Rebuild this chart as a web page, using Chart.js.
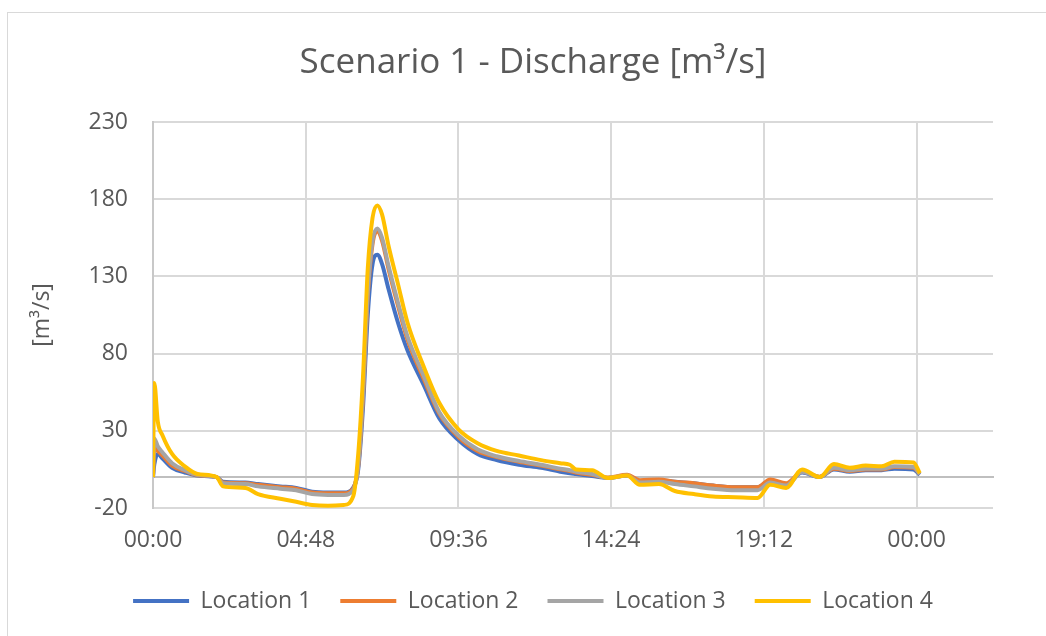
<!DOCTYPE html>
<html>
<head>
<meta charset="utf-8">
<title>Scenario 1 - Discharge</title>
<script src="https://cdn.jsdelivr.net/npm/chart.js@4.4.0/dist/chart.umd.min.js"></script>
<style>
  html, body { margin: 0; padding: 0; background: #fff; overflow: hidden; }
  /* Excel-style chart area border */
  #frame { position: absolute; left: 7px; top: 12px; width: 1060px; height: 660px;
           border: 1px solid #d9d9d9; box-sizing: border-box; }
  #wrap { position: absolute; left: 0; top: 0; width: 1046px; height: 636px; }
</style>
</head>
<body>
<div id="frame"></div>
<div id="wrap"><canvas id="chart" width="1046" height="636"></canvas></div>
<script>
// ── Data (time in hours from 00:00, discharge in m³/s) ──
const hours = [0, 0.04, 0.15, 0.3, 0.6, 1.0, 1.4, 2.0, 2.2, 2.9,
  3.3, 4.0, 4.5, 5.0, 5.5, 6.0, 6.3, 6.45, 6.6, 6.75,
  6.9, 7.05, 7.2, 7.4, 7.7, 8.0, 8.5, 9.0, 9.6, 10.2,
  10.8, 11.5, 12.2, 12.8, 13.1, 13.3, 13.8, 14.3, 14.9, 15.3,
  15.9, 16.4, 17.0, 17.6, 18.3, 19.0, 19.4, 19.9, 20.4, 20.95,
  21.4, 21.9, 22.4, 22.9, 23.3, 23.9, 24.1];

const location1 = [0, 8, 15, 12, 6, 3, 1, 0, -3, -3.5,
  -4.5, -6, -7, -9.5, -10, -10, -6.5, 5, 45, 105,
  138, 144, 138, 122, 100, 82, 60, 38, 24, 15,
  11, 8, 6, 3.5, 2.5, 2, 0.7, -0.5, 1, -2.5,
  -2, -3, -4, -5.5, -6.5, -6.5, -2.5, -5, 3, 0,
  5, 3.5, 4.5, 4.5, 5.5, 5, 1.5];

const location2 = [0, 20, 17, 14, 7.5, 4, 1.2, 0, -3.5, -4,
  -5, -6.5, -7.5, -10, -10.5, -10.5, -7, 7, 52, 117,
  151, 159, 153, 135, 111, 89, 64, 41, 26, 17,
  13, 10, 7.5, 5, 4, 3, 1.5, -0.3, 1.5, -2,
  -1.5, -3, -4, -5.5, -6.5, -6.5, -1.5, -4, 3.5, 0.3,
  5.5, 4, 5, 5, 6.5, 6, 2];

const location3 = [0, 25, 20, 16, 9, 4.5, 1.5, 0, -4, -4.5,
  -6, -7.5, -8.5, -11, -11.5, -11.5, -8, 8, 55, 120,
  153, 161, 155, 137, 113, 91, 66, 42, 27, 18,
  13.5, 10.5, 8, 5.5, 4.5, 3.5, 2, -0.5, 1, -3.5,
  -3, -4.5, -6, -7.5, -8.5, -8.5, -3.5, -5.5, 3.5, 0,
  6, 4.5, 5.5, 5.5, 7, 6.5, 2];

const location4 = [0, 61, 36, 27, 15, 7, 2, 0, -6, -7,
  -11, -14, -16, -18, -18.5, -18, -12, 15, 65, 135,
  168, 176, 170, 150, 125, 100, 72, 48, 31, 22,
  17, 14, 11, 9, 8, 5, 4.5, -0.5, 1, -5,
  -4.5, -9, -11, -12.5, -13, -13.5, -5, -7, 5, 0,
  8.5, 6, 7.5, 7, 10, 9.5, 2.5];

const seriesNames = ['Location 1', 'Location 2', 'Location 3', 'Location 4'];
const seriesValues = [location1, location2, location3, location4];
const seriesColors = ['#4472C4', '#ED7D31', '#A5A5A5', '#FFC000'];

// axis ticks: x in minutes (00:00 ... next 00:00), y in m³/s
const xTickValues = [0, 288, 576, 864, 1152, 1440];
const xRange = [0, 1584];
const yTickValues = [-20, 30, 80, 130, 180, 230];

const FONT = "'Open Sans', sans-serif";
const TEXT = '#595959';
const GRID = '#d9d9d9';

function fmtTime(min) {
  const m = Math.round(min) % 1440;
  const pad = n => String(n).padStart(2, '0');
  return pad(Math.floor(m / 60)) + ':' + pad(m % 60);
}

const datasets = seriesValues.map((vals, i) => ({
  label: seriesNames[i],
  data: vals.map((v, j) => ({ x: hours[j] * 60, y: v })),
  borderColor: seriesColors[i],
  backgroundColor: seriesColors[i],
  borderWidth: 4,
  pointRadius: 0,
  cubicInterpolationMode: 'monotone',
  order: seriesValues.length - i      // last series on top, like Excel
}));

new Chart(document.getElementById('chart'), {
  type: 'line',
  data: { datasets },
  options: {
    responsive: false,
    animation: false,
    layout: { padding: { left: 20, right: 0, top: 0, bottom: 13.5 } },
    plugins: {
      title: {
        display: true,
        text: 'Scenario 1 - Discharge [m³/s]',
        color: TEXT,
        font: { family: FONT, size: 35, weight: 'normal' },
        padding: { top: 42, bottom: 38 }
      },
      legend: {
        position: 'bottom',
        labels: {
          color: TEXT,
          font: { family: FONT, size: 23 },
          boxWidth: 56,
          boxHeight: 4,
          padding: 29,
          sort: (a, b) => a.datasetIndex - b.datasetIndex,
          generateLabels: chart => Chart.defaults.plugins.legend.labels
            .generateLabels(chart).map(it => ({ ...it, lineWidth: 0 }))
        }
      },
      tooltip: { enabled: false }
    },
    scales: {
      x: {
        type: 'linear',
        min: xRange[0],
        max: xRange[1],
        afterBuildTicks: s => { s.ticks = xTickValues.map(v => ({ value: v })); },
        afterFit: s => { s.height = 52.5; },
        ticks: {
          maxRotation: 0,
          autoSkip: false,
          padding: 19,
          color: TEXT,
          font: { family: FONT, size: 23 },
          callback: v => fmtTime(v)
        },
        grid: { color: GRID, lineWidth: 2, drawTicks: false },
        border: { display: false }
      },
      // horizontal axis line crossing at y = 0
      xZero: {
        type: 'linear',
        position: { y: 0 },
        ticks: { display: false },
        grid: { display: false },
        border: { display: true, color: '#bfbfbf', width: 2 }
      },
      y: {
        min: yTickValues[0],
        max: yTickValues[yTickValues.length - 1],
        afterBuildTicks: s => { s.ticks = yTickValues.map(v => ({ value: v })); },
        afterFit: s => { s.width = 133; },
        ticks: {
          padding: 25,
          color: TEXT,
          font: { family: FONT, size: 23 }
        },
        grid: { color: GRID, lineWidth: 2, drawTicks: false },
        border: { display: true, color: '#c8c8c8', width: 2 },
        title: {
          display: true,
          text: '[m³/s]',
          color: TEXT,
          font: { family: FONT, size: 23 },
          padding: { top: 9, bottom: 0 }
        }
      },
      // empty right-hand spacer so the plot ends where Excel's does
      ySpace: {
        position: 'right',
        afterFit: s => { s.width = 53; },
        ticks: { display: false },
        grid: { display: false },
        border: { display: false }
      }
    }
  }
});
</script>
</body>
</html>
